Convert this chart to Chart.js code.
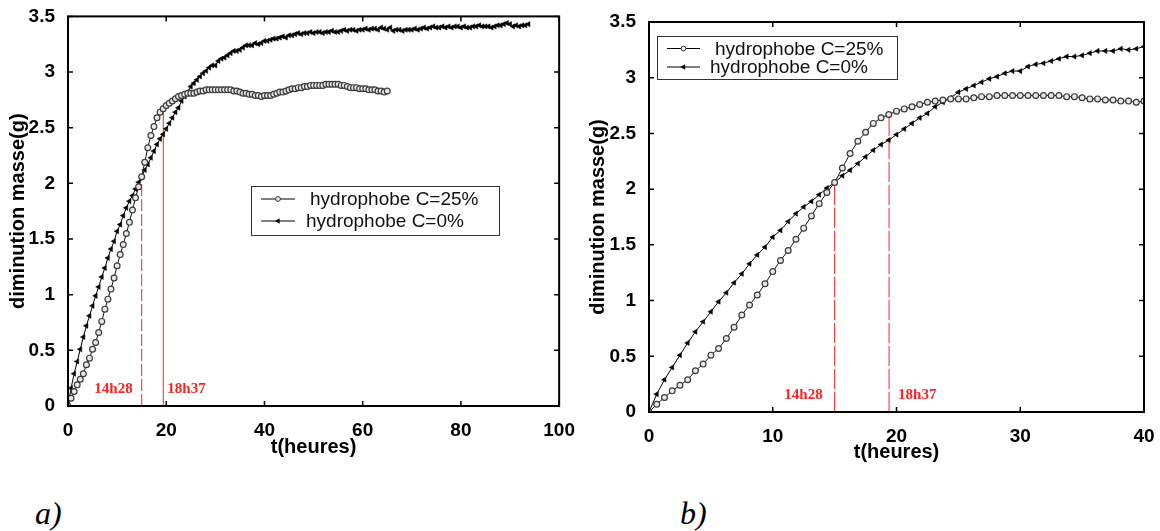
<!DOCTYPE html>
<html>
<head>
<meta charset="utf-8">
<script src="https://cdn.jsdelivr.net/npm/chart.js@4.4.1/dist/chart.umd.min.js"></script>
<style>
  html, body { margin: 0; padding: 0; background: #fff; }
  #wrap { position: relative; width: 1160px; height: 531px; overflow: hidden; }
  .panel { position: absolute; top: 0; width: 580px; height: 470px; }
  .tag { position: absolute; font: italic 32px "Liberation Serif", "Times New Roman", serif; line-height: 1; color: #000; }
</style>
</head>
<body>
<div id="wrap">
  <div class="panel" style="left:0"><canvas id="chartA" width="580" height="470"></canvas></div>
  <div class="panel" style="left:580px"><canvas id="chartB" width="580" height="470"></canvas></div>
  <div class="tag" style="left:35px; top:497px">a)</div>
  <div class="tag" style="left:680px; top:497px">b)</div>
</div>
<script>
// one reading every 0.625 h (37.5 min)
const STEP_HOURS = 0.625

// hydrophobe C=25%, 0 .. 65 h
const hydro25 = [
  0, 0.07, 0.13, 0.19, 0.24, 0.29, 0.37, 0.43, 0.51, 0.57,
  0.66, 0.76, 0.87, 0.96, 1.05, 1.15, 1.26, 1.36, 1.45, 1.55,
  1.65, 1.76, 1.87, 1.97, 2.06, 2.19, 2.32, 2.43, 2.51, 2.59,
  2.64, 2.67, 2.70, 2.72, 2.74, 2.76, 2.78, 2.79, 2.80, 2.81,
  2.81, 2.81, 2.82, 2.83, 2.83, 2.84, 2.84, 2.84, 2.84, 2.84,
  2.84, 2.84, 2.84, 2.84, 2.83, 2.83, 2.82, 2.81, 2.81, 2.80,
  2.80, 2.79, 2.79, 2.78, 2.79, 2.79, 2.79, 2.80, 2.81, 2.82,
  2.82, 2.83, 2.84, 2.85, 2.85, 2.86, 2.86, 2.87, 2.87, 2.88,
  2.88, 2.88, 2.88, 2.88, 2.89, 2.89, 2.89, 2.89, 2.89, 2.88,
  2.88, 2.87, 2.86, 2.86, 2.86, 2.85, 2.85, 2.85, 2.84, 2.84,
  2.84, 2.83, 2.83, 2.82, 2.83
]

// hydrophobe C=0%, 0 .. 93.75 h
const hydro0 = [
  0, 0.16, 0.29, 0.40, 0.51, 0.62, 0.72, 0.81, 0.90, 0.99,
  1.07, 1.16, 1.24, 1.33, 1.41, 1.48, 1.57, 1.63, 1.71, 1.78,
  1.84, 1.89, 1.95, 2.01, 2.06, 2.12, 2.17, 2.23, 2.29, 2.35,
  2.40, 2.44, 2.49, 2.54, 2.59, 2.64, 2.68, 2.74, 2.78, 2.82,
  2.87, 2.90, 2.93, 2.96, 2.99, 3.01, 3.04, 3.06, 3.06, 3.10,
  3.12, 3.13, 3.15, 3.17, 3.19, 3.19, 3.20, 3.22, 3.24, 3.24,
  3.24, 3.26, 3.25, 3.26, 3.28, 3.28, 3.29, 3.30, 3.30, 3.31,
  3.32, 3.31, 3.33, 3.33, 3.34, 3.35, 3.34, 3.35, 3.35, 3.36,
  3.35, 3.36, 3.36, 3.35, 3.36, 3.36, 3.37, 3.36, 3.36, 3.37,
  3.38, 3.37, 3.38, 3.38, 3.37, 3.38, 3.38, 3.39, 3.38, 3.39,
  3.39, 3.38, 3.40, 3.39, 3.38, 3.40, 3.37, 3.38, 3.38, 3.37,
  3.38, 3.38, 3.38, 3.39, 3.38, 3.39, 3.40, 3.39, 3.40, 3.41,
  3.40, 3.40, 3.41, 3.40, 3.41, 3.40, 3.41, 3.41, 3.40, 3.41,
  3.40, 3.40, 3.41, 3.41, 3.42, 3.41, 3.41, 3.41, 3.40, 3.41,
  3.42, 3.42, 3.43, 3.44, 3.43, 3.41, 3.42, 3.41, 3.42, 3.42,
  3.43
]

const seriesNames = ['hydrophobe C=25%', 'hydrophobe C=0%']
const yTicks = [0, 0.5, 1, 1.5, 2, 2.5, 3, 3.5]
const xTicksA = [0, 20, 40, 60, 80, 100]
const xTicksB = [0, 10, 20, 30, 40]

// red markers: time (h), height reached (g), label
const markTimes = [15, 19.4]
const markTops = [2.06, 2.67]
const markLabels = ['14h28', '18h37']

const RED = '#ff2222'
const FONT = '"Liberation Sans", Arial, sans-serif'

Chart.defaults.font.family = FONT
Chart.defaults.color = '#000'

function toPoints(values) {
  return values.map((v, i) => ({ x: i * STEP_HOURS, y: v }))
}

function markLine(i, dash) {
  return {
    data: [{ x: markTimes[i], y: 0 }, { x: markTimes[i], y: markTops[i] }],
    borderColor: RED,
    borderWidth: 1,
    borderDash: dash,
    pointRadius: 0,
    clip: false
  }
}

function drawTriangleLeft(ctx, x, y, r) {
  ctx.beginPath()
  ctx.moveTo(x - r, y)
  ctx.lineTo(x + r * 0.5, y - r * 0.866)
  ctx.lineTo(x + r * 0.5, y + r * 0.866)
  ctx.closePath()
  ctx.fill()
}

// matlab style box, inward ticks, red time labels and legend
const frame = {
  id: 'frame',
  afterDatasetsDraw(chart, args, opts) {
    const { ctx, chartArea: a, scales: { x, y } } = chart
    ctx.save()
    ctx.strokeStyle = '#000'
    ctx.lineWidth = 1.5
    ctx.beginPath()
    x.ticks.forEach(t => {
      const px = x.getPixelForValue(t.value)
      ctx.moveTo(px, a.bottom); ctx.lineTo(px, a.bottom - 5)
      ctx.moveTo(px, a.top); ctx.lineTo(px, a.top + 5)
    })
    y.ticks.forEach(t => {
      const py = y.getPixelForValue(t.value)
      ctx.moveTo(a.left, py); ctx.lineTo(a.left + 5, py)
      ctx.moveTo(a.right, py); ctx.lineTo(a.right - 5, py)
    })
    ctx.stroke()
    ctx.lineWidth = 2
    ctx.strokeRect(a.left, a.top, a.right - a.left, a.bottom - a.top)

    ctx.font = 'bold 15px "Liberation Serif", "Times New Roman", serif'
    ctx.fillStyle = RED
    ctx.textBaseline = 'middle'
    ctx.textAlign = 'right'
    ctx.fillText(markLabels[0], x.getPixelForValue(markTimes[0]) - opts.gapL, a.bottom - 17)
    ctx.textAlign = 'left'
    ctx.fillText(markLabels[1], x.getPixelForValue(markTimes[1]) + opts.gapR, a.bottom - 17)

    const L = opts.legend
    ctx.fillStyle = '#fff'
    ctx.fillRect(L.left, L.top, L.width, L.height)
    ctx.strokeStyle = '#333'
    ctx.lineWidth = 1
    ctx.strokeRect(L.left + 0.5, L.top + 0.5, L.width, L.height)
    ctx.font = '19px ' + FONT
    ctx.textAlign = 'left'
    ctx.textBaseline = 'middle'
    L.rows.forEach((ry, i) => {
      ctx.strokeStyle = '#000'
      ctx.beginPath()
      ctx.moveTo(L.x0, ry); ctx.lineTo(L.x1, ry)
      ctx.stroke()
      const mx = (L.x0 + L.x1) / 2
      if (i === 0) {
        ctx.fillStyle = '#eee'
        ctx.strokeStyle = '#333'
        ctx.beginPath(); ctx.arc(mx, ry, 2.4, 0, Math.PI * 2); ctx.fill(); ctx.stroke()
      } else {
        ctx.fillStyle = '#000'
        drawTriangleLeft(ctx, mx, ry, 3.2)
      }
      ctx.fillStyle = '#111'
      ctx.fillText(seriesNames[i], L.textX[i], ry + 1)
    })
    ctx.restore()
  }
}

function makeChart(id, cfg) {
  return new Chart(document.getElementById(id), {
    type: 'line',
    data: {
      datasets: [
        {
          label: seriesNames[0],
          data: toPoints(hydro25),
          borderColor: '#111',
          borderWidth: 1,
          pointStyle: 'circle',
          pointRadius: 2.9,
          pointBorderWidth: 1.2,
          pointBorderColor: '#3a3a3a',
          pointBackgroundColor: '#e8e8e8'
        },
        {
          label: seriesNames[1],
          data: toPoints(hydro0),
          borderColor: '#000',
          borderWidth: 1,
          pointStyle: 'triangle',
          rotation: -90,
          pointRadius: 3,
          pointBorderWidth: 0.5,
          pointBorderColor: '#000',
          pointBackgroundColor: '#000'
        },
        markLine(0, cfg.dash[0]),
        markLine(1, cfg.dash[1])
      ]
    },
    options: {
      responsive: false,
      animation: false,
      events: [],
      layout: { padding: { top: cfg.padTop, right: cfg.padRight, left: 0, bottom: 0 } },
      plugins: {
        legend: { display: false },
        tooltip: { enabled: false },
        frame: cfg.frame
      },
      scales: {
        x: {
          type: 'linear',
          min: 0,
          max: cfg.xMax,
          grid: { display: false },
          border: { display: false },
          afterBuildTicks: s => { s.ticks = cfg.xTicks.map(v => ({ value: v })) },
          afterFit: s => { s.height = cfg.xHeight },
          ticks: { font: { size: 19, weight: 'bold' }, color: '#000', padding: 5, maxRotation: 0, autoSkip: false, callback: v => String(v) },
          title: { display: true, text: 't(heures)', font: { size: 20, weight: 'bold' }, color: '#000', padding: { top: 0, bottom: cfg.xTitlePad } }
        },
        y: {
          min: 0,
          max: 3.5,
          grid: { display: false },
          border: { display: false },
          afterBuildTicks: s => { s.ticks = yTicks.map(v => ({ value: v })) },
          afterFit: s => { s.width = cfg.yWidth },
          ticks: { font: { size: 19, weight: 'bold' }, color: '#000', padding: 5, autoSkip: false, callback: v => String(v) },
          title: { display: true, text: 'diminution masse(g)', font: { size: 20, weight: 'bold' }, color: '#000', padding: { top: 6, bottom: 0 } }
        }
      }
    },
    plugins: [frame]
  })
}

makeChart('chartA', {
  xMax: 100, xTicks: xTicksA,
  padTop: 15, padRight: 16, yWidth: 68, xHeight: 64, xTitlePad: 11,
  dash: [[12, 3], []],
  frame: {
    gapL: 9, gapR: 4,
    legend: { left: 251, top: 186, width: 248, height: 49, x0: 261, x1: 295, rows: [199, 221], textX: [310, 306] }
  }
})

makeChart('chartB', {
  xMax: 40, xTicks: xTicksB,
  padTop: 22, padRight: 16, yWidth: 69, xHeight: 58, xTitlePad: 6,
  dash: [[20, 3], [20, 3]],
  frame: {
    gapL: 12, gapR: 9,
    legend: { left: 77, top: 36, width: 240, height: 43, x0: 87, x1: 120, rows: [48.5, 67], textX: [135, 130] }
  }
})
</script>
</body>
</html>
